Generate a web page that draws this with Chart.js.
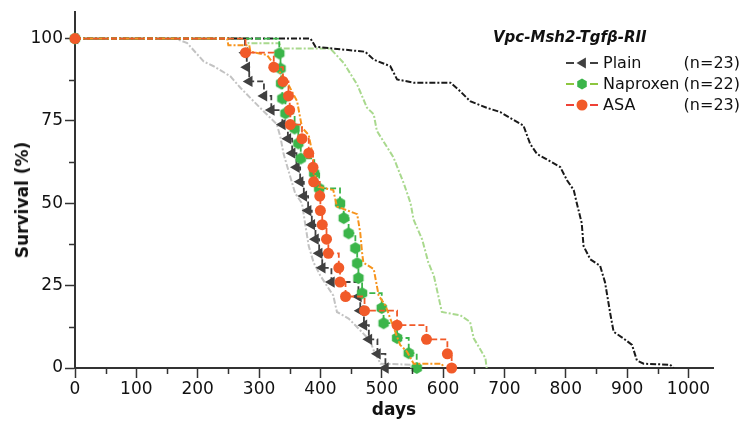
<!DOCTYPE html>
<html>
<head>
<meta charset="utf-8">
<script src="https://cdn.jsdelivr.net/npm/chart.js@4.4.1/dist/chart.umd.min.js"></script>
<style>
html, body { margin: 0; padding: 0; background: #fff; }
#wrap { position: relative; width: 743px; height: 428px; font-family: "DejaVu Sans", sans-serif; color: #111; }
#chart { position: absolute; left: 0; top: 0; }
#ytitle { position: absolute; left: 22px; top: 200px; transform: translate(-50%, -50%) rotate(-90deg); font-weight: bold; font-size: 17px; white-space: nowrap; }
#title { position: absolute; left: 493px; top: 28px; font-weight: bold; font-style: italic; font-size: 15px; white-space: nowrap; }
.row { position: absolute; left: 566px; width: 174px; height: 21px; font-size: 16px; line-height: 21px; white-space: nowrap; }
.row canvas { position: absolute; left: 0; top: 4px; }
.row .name { position: absolute; left: 37px; }
.row .n { position: absolute; right: 0; }
</style>
</head>
<body>
<div id="wrap">
  <canvas id="chart" width="743" height="428"></canvas>
  <div id="ytitle">Survival (%)</div>
  <div id="title">Vpc-Msh2-Tgfβ-RII</div>
  <div id="legend"></div>
</div>
<script>
// Kaplan-Meier data (days, % surviving)
const plainDays = [0, 277, 280, 284, 308, 320, 338, 347, 354, 361, 367, 373, 380, 386, 392, 398, 403, 418, 462, 465, 471, 479, 493, 506];
const plainSurv = [100, 95.7, 91.3, 87.0, 82.6, 78.3, 73.9, 69.6, 65.2, 60.9, 56.5, 52.2, 47.8, 43.5, 39.1, 34.8, 30.4, 26.1, 21.7, 17.4, 13.0, 8.7, 4.3, 0];

const naproxenDays = [0, 333, 335, 336, 338, 343, 358, 364, 368, 390, 398, 432, 438, 446, 457, 460, 462, 468, 500, 503, 525, 544, 557];
const naproxenSurv = [100, 95.5, 90.9, 86.4, 81.8, 77.3, 72.7, 68.2, 63.6, 59.1, 54.5, 50.0, 45.5, 40.9, 36.4, 31.8, 27.3, 22.7, 18.2, 13.6, 9.1, 4.5, 0];

const asaDays = [0, 278, 324, 339, 348, 350, 351, 370, 381, 388, 389, 399, 400, 403, 410, 413, 430, 432, 441, 472, 525, 573, 607, 614];
const asaSurv = [100, 95.7, 91.3, 87.0, 82.6, 78.3, 73.9, 69.6, 65.2, 60.9, 56.5, 52.2, 47.8, 43.5, 39.1, 34.8, 30.4, 26.1, 21.7, 17.4, 13.0, 8.7, 4.3, 0];

// background reference curves (dash-dot, no markers)
const refBlackDays = [0, 384, 392, 473, 487, 514, 525, 552, 612, 628, 644, 671, 693, 731, 742, 753, 791, 802, 813, 818, 826, 829, 840, 856, 864, 873, 878, 894, 908, 916, 927, 970, 976];
const refBlackSurv = [100, 100, 97.5, 96, 93.6, 91.6, 87.6, 86.6, 86.6, 84, 81, 79, 77.7, 73.6, 68, 65, 61, 57, 54, 50, 44, 37, 33, 31, 26, 16, 11, 9, 7, 2.3, 1.3, 1, 0];

const refGreenDays = [0, 281, 283, 333, 336, 416, 438, 460, 476, 487, 492, 519, 536, 547, 552, 566, 576, 585, 598, 628, 644, 650, 669, 671];
const refGreenSurv = [100, 100, 98.6, 98.6, 97, 97, 92.6, 86, 79, 77, 72, 64, 56, 50, 45, 39, 32, 28, 17, 16, 14, 9, 3, 0];

const refGrayDays = [0, 164, 183, 210, 226, 253, 270, 291, 307, 329, 335, 340, 351, 359, 370, 375, 381, 389, 400, 421, 427, 446, 462, 481, 487, 498, 547, 548];
const refGraySurv = [100, 100, 98.6, 93, 91.6, 88.6, 85, 81, 78, 74, 70, 65, 58, 53, 50, 44, 37, 32, 28, 22, 17, 15, 12, 8.3, 5.3, 1.3, 1, 0];

const refOrangeDays = [0, 248, 250, 284, 286, 313, 345, 362, 370, 381, 386, 392, 397, 421, 427, 460, 465, 468, 470, 487, 495, 506, 520, 530, 541, 552, 598, 601];
const refOrangeSurv = [100, 100, 98, 98, 96, 95, 87, 81, 73, 70.7, 66, 58, 55, 54, 49, 46.7, 41, 35, 32, 30, 22, 19, 12, 7, 5, 1.3, 1.3, 0];

const seriesNames = ["Plain", "Naproxen", "ASA"];
const seriesCounts = ["(n=23)", "(n=22)", "(n=23)"];

const xTicks = [0, 100, 200, 300, 400, 500, 600, 700, 800, 900, 1000];
const xMinorTicks = [50, 150, 250, 350, 450, 550, 650, 750, 850, 950];
const yTicks = [0, 25, 50, 75, 100];
const yMinorTicks = [12.5, 37.5, 62.5, 87.5];

// styles
const axisColor = "#333";
const fontFamily = "'DejaVu Sans', sans-serif";
const seriesColors = ["#404040", "#3bb54a", "#f15a29"];
const legendLineColors = ["#404040", "#8dc63f", "#ef4136"];
const markerStyles = ["triangleLeft", "hexagon", "circle"];

function drawMarker(g, style, x, y, r, color) {
  g.fillStyle = color;
  g.beginPath();
  if (style === "circle") {
    g.arc(x, y, r, 0, Math.PI * 2);
  } else if (style === "triangleLeft") {
    g.moveTo(x - r, y);
    g.lineTo(x + r * 0.7, y - r);
    g.lineTo(x + r * 0.7, y + r);
    g.closePath();
  } else {
    for (let i = 0; i < 6; i++) {
      const a = (i * 60 - 90) * Math.PI / 180;
      const px = x + r * Math.cos(a), py = y + r * Math.sin(a);
      if (i === 0) g.moveTo(px, py); else g.lineTo(px, py);
    }
    g.closePath();
  }
  g.fill();
}

function hexImage(color, r) {
  const c = document.createElement("canvas");
  c.width = c.height = Math.ceil(r * 2) + 2;
  drawMarker(c.getContext("2d"), "hexagon", c.width / 2, c.height / 2, r, color);
  return c;
}

function pts(xs, ys) {
  return xs.map((d, i) => ({ x: d, y: ys[i] }));
}

function kmSet(label, xs, ys, color, pointOpts) {
  return Object.assign({
    label: label,
    data: pts(xs, ys),
    borderColor: color,
    backgroundColor: color,
    borderWidth: 1.8,
    borderDash: [6, 3],
    stepped: "before",
    pointBorderWidth: 0,
    pointBackgroundColor: color,
    clip: false
  }, pointOpts);
}

function refSet(label, xs, ys, color) {
  return {
    label: label,
    data: pts(xs, ys),
    borderColor: color,
    borderWidth: 2,
    borderDash: [6, 2, 2, 2],
    pointRadius: 0,
    stepped: false
  };
}

// minor tick marks on both axes
const minorTicks = {
  id: "minorTicks",
  afterDraw(chart) {
    const { ctx, scales: { x, y } } = chart;
    ctx.save();
    ctx.strokeStyle = axisColor;
    ctx.lineWidth = 1.5;
    ctx.beginPath();
    xMinorTicks.forEach(v => {
      const px = Math.round(x.getPixelForValue(v)) + 0.5;
      ctx.moveTo(px, y.bottom);
      ctx.lineTo(px, y.bottom + 6);
    });
    yMinorTicks.forEach(v => {
      const py = Math.round(y.getPixelForValue(v)) + 0.5;
      ctx.moveTo(x.left, py);
      ctx.lineTo(x.left - 6, py);
    });
    ctx.stroke();
    ctx.restore();
  }
};

new Chart(document.getElementById("chart"), {
  type: "line",
  data: {
    datasets: [
      kmSet("ASA", asaDays, asaSurv, seriesColors[2], { pointStyle: "circle", pointRadius: 5.5 }),
      refSet("ref orange", refOrangeDays, refOrangeSurv, "#f7941d"),
      kmSet("Naproxen", naproxenDays, naproxenSurv, seriesColors[1], { pointStyle: hexImage(seriesColors[1], 6) }),
      kmSet("Plain", plainDays, plainSurv, seriesColors[0], { pointStyle: "triangle", pointRotation: -90, pointRadius: 6.5 }),
      refSet("ref black", refBlackDays, refBlackSurv, "#1a1a1a"),
      refSet("ref green", refGreenDays, refGreenSurv, "#a9d98e"),
      refSet("ref gray", refGrayDays, refGraySurv, "#c3c3c3")
    ]
  },
  options: {
    responsive: false,
    animation: false,
    events: [],
    layout: { padding: { left: 0, right: 30, top: 7, bottom: 0 } },
    plugins: { legend: { display: false }, tooltip: { enabled: false } },
    scales: {
      x: {
        type: "linear",
        min: 0,
        max: 1040,
        afterBuildTicks: s => { s.ticks = xTicks.map(v => ({ value: v })); },
        afterFit: s => { s.height = 60; },
        grid: { drawOnChartArea: false, tickLength: 10, tickWidth: 1.5, tickColor: axisColor },
        border: { color: axisColor, width: 2 },
        ticks: { font: { family: fontFamily, size: 17 }, color: "#111", padding: 1, maxRotation: 0, autoSkip: false, callback: v => String(v) },
        title: { display: true, text: "days", color: "#111", font: { family: fontFamily, size: 17, weight: "bold" }, padding: { top: 0, bottom: 7 } }
      },
      y: {
        type: "linear",
        min: 0,
        max: 108,
        afterBuildTicks: s => { s.ticks = yTicks.map(v => ({ value: v })); },
        afterFit: s => { s.width = 75; },
        grid: { drawOnChartArea: false, tickLength: 10, tickWidth: 1.5, tickColor: axisColor },
        border: { color: axisColor, width: 2 },
        ticks: { font: { family: fontFamily, size: 17 }, color: "#111", padding: 2, autoSkip: false, callback: v => String(v) }
      }
    }
  },
  plugins: [minorTicks]
});

// legend
const legend = document.getElementById("legend");
seriesNames.forEach((name, i) => {
  const row = document.createElement("div");
  row.className = "row";
  row.style.top = (52 + i * 21) + "px";
  const icon = document.createElement("canvas");
  icon.width = 32; icon.height = 14;
  const g = icon.getContext("2d");
  g.strokeStyle = legendLineColors[i];
  g.lineWidth = 2;
  g.beginPath();
  g.moveTo(0, 7); g.lineTo(8, 7);
  g.moveTo(24, 7); g.lineTo(32, 7);
  g.stroke();
  drawMarker(g, markerStyles[i], 16, 7, 5.5, seriesColors[i]);
  row.appendChild(icon);
  const nm = document.createElement("span");
  nm.className = "name"; nm.textContent = name;
  row.appendChild(nm);
  const n = document.createElement("span");
  n.className = "n"; n.textContent = seriesCounts[i];
  row.appendChild(n);
  legend.appendChild(row);
});
</script>
</body>
</html>
